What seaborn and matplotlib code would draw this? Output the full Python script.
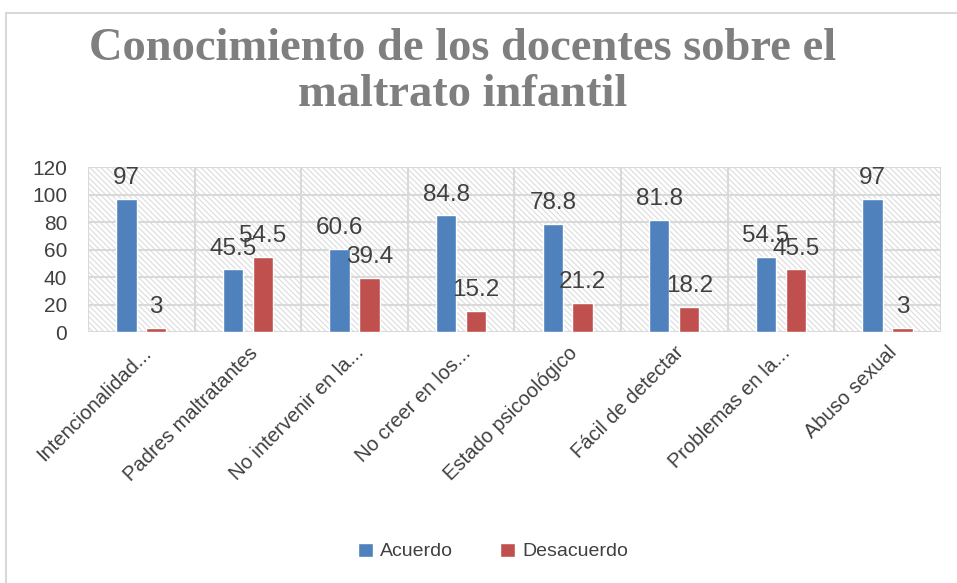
import matplotlib
matplotlib.use("Agg")
import matplotlib.pyplot as plt
from matplotlib.patches import Rectangle
import pandas as pd
import seaborn as sns

categories = ["Intencionalidad...", "Padres maltratantes", "No intervenir en la...",
              "No creer en los...", "Estado psicoológico", "Fácil de detectar",
              "Problemas en la...", "Abuso sexual"]
acuerdo = [97, 45.5, 60.6, 84.8, 78.8, 81.8, 54.5, 97]
desacuerdo = [3, 54.5, 39.4, 15.2, 21.2, 18.2, 45.5, 3]
series = ["Acuerdo", "Desacuerdo"]
colors = ["#4F81BD", "#C0504D"]
yticks = [0, 20, 40, 60, 80, 100, 120]

df = pd.DataFrame({
    "cat": categories * 2,
    "serie": [series[0]] * len(categories) + [series[1]] * len(categories),
    "valor": acuerdo + desacuerdo,
})

sns.set_style("white")
plt.rcParams["font.family"] = ["Liberation Sans", "DejaVu Sans"]
plt.rcParams["hatch.linewidth"] = 0.8

fig = plt.figure(figsize=(9.57, 5.83), dpi=100)
ax = fig.add_axes([0.092, 0.4305, 0.891, 0.283])

# hatched background like the Excel chart
ax.add_patch(Rectangle((0, 0), 1, 1, transform=ax.transAxes, facecolor="white",
                       edgecolor="#dcdcdc", hatch="\\\\\\\\\\\\", linewidth=0, zorder=0))
sns.barplot(data=df, x="cat", y="valor", hue="serie", palette=colors, saturation=1,
            width=0.56, gap=0.32, ax=ax, zorder=3, legend=True)

ax.set_ylim(0, 120)
ax.set_xlim(-0.5, len(categories) - 0.5)
ax.set_yticks(yticks)
ax.set_yticklabels([str(t) for t in yticks], fontsize=15, color="#404040")
ax.set_xticks(range(len(categories)))
ax.set_xticklabels(categories, rotation=45, ha="right", rotation_mode="anchor",
                   fontsize=14.5, color="#404040")
ax.tick_params(axis="y", length=0, pad=15)
ax.tick_params(axis="x", length=0, pad=8)
ax.set_xlabel("")
ax.set_ylabel("")

for y in yticks:
    ax.axhline(y, color="#d9d9d9", lw=1.5, zorder=1)
for x in range(len(categories) + 1):
    ax.axvline(x - 0.5, color="#d9d9d9", lw=1.5, zorder=1)
for s in ax.spines.values():
    s.set_visible(False)

for cont in ax.containers:
    ax.bar_label(cont, labels=[f"{v:g}" for v in cont.datavalues], padding=7,
                 fontsize=17.5, color="#404040")

leg = ax.legend(loc="center", bbox_to_anchor=(0.475, -1.33), ncol=2, frameon=False,
                fontsize=14, handlelength=0.75, handleheight=0.75, columnspacing=2.4,
                handletextpad=0.4)
for t in leg.get_texts():
    t.set_color("#404040")

fig.text(0.483, 0.877, "Conocimiento de los docentes sobre el\nmaltrato infantil",
         ha="center", va="center", fontsize=33.5, fontweight="bold", color="#7f7f7f",
         family="Liberation Serif", linespacing=1.12)

fig.add_artist(Rectangle((0.006, -0.05), 1.1, 1.028, transform=fig.transFigure,
                         fill=False, edgecolor="#d9d9d9", lw=1.5))

fig.savefig("out.png", dpi=100)
